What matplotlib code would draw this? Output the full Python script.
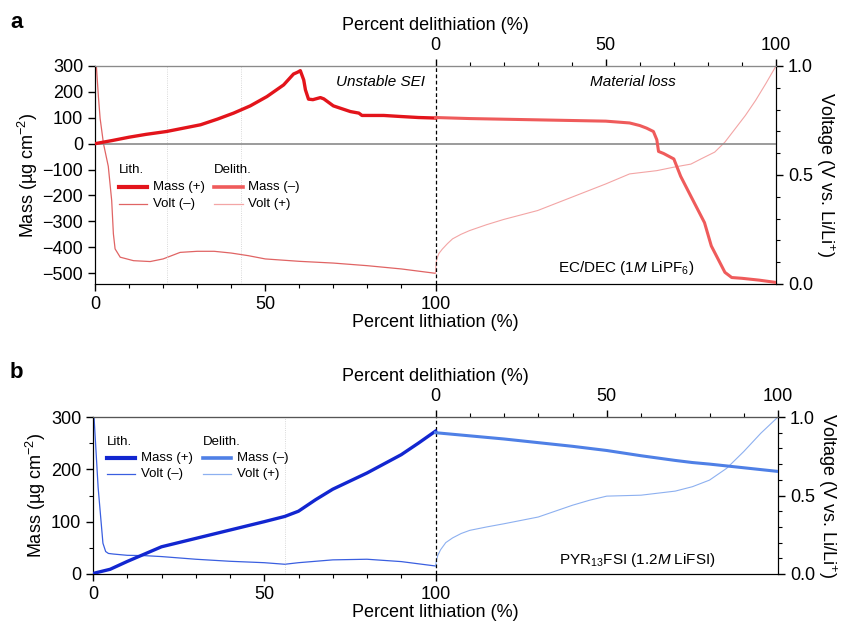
import matplotlib
matplotlib.use("Agg")
import matplotlib.pyplot as plt
from matplotlib.lines import Line2D

plt.rcParams["font.family"] = ["Liberation Sans", "DejaVu Sans"]
plt.rcParams["mathtext.fontset"] = "custom"
plt.rcParams["mathtext.rm"] = "Liberation Sans"
plt.rcParams["mathtext.it"] = "Liberation Sans:italic"
plt.rcParams["mathtext.bf"] = "Liberation Sans:bold"

# --- panel a: EC/DEC (1M LiPF6) -------------------------------------------
a_lith_x = [0, 5, 10, 15, 21, 26, 31, 36, 40.7, 45.6, 50.5, 55.4, 58.3, 59.5, 60.3,
            61.3, 61.8, 62.7, 64, 66.2, 67.2, 70, 75, 77.5, 78.4, 84.8, 89.7, 95, 100]
a_lith_mass = [0, 12, 25, 36, 47, 60, 73, 95, 118, 146, 182, 227, 269, 276, 282,
               246, 208, 172, 170, 178, 173, 146, 124, 118, 109, 109, 105, 101, 99]

a_deli_x = [0, 10, 30, 50, 57, 60, 62, 64, 65, 65.5, 67, 70, 72, 75, 79, 81, 85,
            87, 90, 95, 100]
a_deli_mass = [101, 97, 92, 87, 80, 70, 60, 47, 15, -30, -38, -59, -126, -203,
               -305, -395, -497, -517, -520, -527, -536]

a_lith_vx = [0.4, 1.0, 1.5, 2.5, 3.9, 4.9, 5.4, 5.9, 7.4, 11.3, 16.2, 20, 25, 30,
             35, 40, 45, 50, 60, 70, 80, 90, 100]
a_lith_v = [1.0, 0.86, 0.76, 0.643, 0.54, 0.383, 0.23, 0.161, 0.123, 0.107, 0.103,
            0.115, 0.145, 0.150, 0.150, 0.142, 0.130, 0.115, 0.104, 0.096,
            0.084, 0.069, 0.049]

a_deli_vx = [0, 0.2, 0.5, 1, 2, 3.5, 5, 7.5, 10, 15, 20, 30, 40, 50, 57, 65, 70,
             75, 78, 82, 85, 88, 91, 94, 97, 100]
a_deli_v = [0.049, 0.10, 0.12, 0.14, 0.16, 0.185, 0.207, 0.228, 0.245, 0.272,
            0.296, 0.337, 0.398, 0.459, 0.505, 0.52, 0.536, 0.55, 0.574, 0.605,
            0.651, 0.712, 0.773, 0.842, 0.919, 1.0]

# --- panel b: PYR13FSI (1.2M LiFSI) ---------------------------------------
b_lith_x = [0, 5, 10, 15, 20, 30, 40, 50, 56, 60, 65, 70, 80, 90, 95, 100]
b_lith_mass = [1, 9, 24, 38, 52, 68, 84, 100, 110, 120, 142, 162, 193, 228, 250, 273]

b_deli_x = [0, 10, 20, 30, 40, 50, 60, 70, 75, 80, 90, 100]
b_deli_mass = [270, 264, 258, 251, 244, 236, 226, 217, 213, 210, 203, 196]

b_lith_vx = [0.3, 1.5, 2.9, 3.7, 4.5, 6, 10, 15, 20, 30, 40, 50, 56, 60, 70, 80,
             90, 100]
b_lith_v = [1.0, 0.55, 0.196, 0.143, 0.131, 0.127, 0.119, 0.117, 0.111, 0.094,
            0.081, 0.072, 0.062, 0.072, 0.090, 0.094, 0.079, 0.051]

b_deli_vx = [0, 0.3, 0.7, 1.5, 3, 5, 7.5, 10, 15, 20, 30, 40, 45, 50, 60, 70, 75,
             80, 85, 90, 95, 100]
b_deli_v = [0.047, 0.09, 0.12, 0.155, 0.20, 0.23, 0.258, 0.278, 0.30, 0.32, 0.363,
            0.438, 0.47, 0.496, 0.502, 0.528, 0.556, 0.598, 0.673, 0.78, 0.897, 1.0]

RED = dict(lm="#e3141b", dm="#ef5b5b", lv="#e06464", dv="#f3a5a5")
BLUE = dict(lm="#1226d0", dm="#4f80e6", lv="#3a5fe0", dv="#8db0f0")

LBL = 13
TICK = 13


def draw_panel(ax, lx, lm, dx, dm, lvx, lv, dvx, dv, col, mass_lim, mass_major,
               mass_minor, guides, top_color):
    vax = ax.twinx()
    shift = [x + 100 for x in dx]
    shift_v = [x + 100 for x in dvx]
    vax.plot(lvx, lv, color=col["lv"], lw=0.9, zorder=2)
    vax.plot(shift_v, dv, color=col["dv"], lw=0.8, zorder=2)
    vax.set_ylim(0, 1)
    ax.plot(lx, lm, color=col["lm"], lw=2.4, zorder=3)
    ax.plot(shift, dm, color=col["dm"], lw=2.2, zorder=3)
    ax.set_zorder(vax.get_zorder() + 1)
    ax.patch.set_visible(False)

    ax.set_xlim(0, 200)
    ax.set_ylim(*mass_lim)
    ax.axvline(100, color="black", ls=(0, (3, 2)), lw=0.9, zorder=1)
    for g in guides:
        ax.axvline(g, color="#cccccc", ls=":", lw=0.6, zorder=0)

    ax.set_xticks([0, 50, 100])
    ax.set_xticks(range(10, 100, 10), minor=True)
    ax.set_yticks(mass_major)
    ax.set_yticks(mass_minor, minor=True)
    ax.tick_params(axis="both", labelsize=TICK, direction="out", length=5, width=1)
    ax.tick_params(axis="both", which="minor", length=3, width=0.8)
    ax.set_xlabel("Percent lithiation (%)", fontsize=LBL, labelpad=1)
    ax.set_ylabel("Mass (µg cm$^{-2}$)", fontsize=LBL, labelpad=2)

    top = ax.secondary_xaxis("top", functions=(lambda x: x - 100, lambda x: x + 100))
    top.set_xticks([0, 50, 100])
    top.set_xticks(range(10, 100, 10), minor=True)
    top.tick_params(labelsize=TICK, direction="out", length=5, width=1)
    top.tick_params(which="minor", length=3, width=0.8)
    top.set_xlabel("Percent delithiation (%)", fontsize=LBL, labelpad=5)
    top.spines["top"].set_color(top_color)

    vax.set_yticks([0, 0.5, 1.0])
    vax.set_yticklabels(["0.0", "0.5", "1.0"])
    vax.set_yticks([i / 10 for i in range(1, 10)], minor=True)
    vax.tick_params(labelsize=TICK, direction="out", length=5, width=1)
    vax.tick_params(which="minor", length=3, width=0.8)
    vax.set_ylabel("Voltage (V vs. Li/Li$^{+}$)", fontsize=LBL, rotation=-90,
                   labelpad=17)
    for a in (ax, vax):
        a.spines["top"].set_color(top_color)
    return vax


def add_legend(ax, col, x0, y0, dx, dy):
    # header + two rows per column, positions in axes fraction
    for j, (head, labels, keys, widths) in enumerate([
            ("Lith.", ["Mass (+)", "Volt (–)"], ["lm", "lv"], [3.0, 0.9]),
            ("Delith.", ["Mass (–)", "Volt (+)"], ["dm", "dv"], [2.6, 0.9])]):
        xs = x0 + j * dx
        ax.text(xs, y0, head, transform=ax.transAxes, fontsize=9.5,
                ha="left", va="center")
        for i, (lab, k, w) in enumerate(zip(labels, keys, widths)):
            yy = y0 - (i + 1) * dy
            ax.add_line(Line2D([xs, xs + 0.042], [yy, yy], transform=ax.transAxes,
                               color=col[k], lw=w, clip_on=False))
            ax.text(xs + 0.05, yy, lab, transform=ax.transAxes, fontsize=9.5,
                    ha="left", va="center")


fig = plt.figure(figsize=(8.42, 6.23), dpi=100)

ax_a = fig.add_axes([95 / 842, 1 - 284 / 623, 681 / 842, 218 / 623])
draw_panel(ax_a, a_lith_x, a_lith_mass, a_deli_x, a_deli_mass, a_lith_vx, a_lith_v,
           a_deli_vx, a_deli_v, RED, (-542, 300), range(-500, 301, 100), [],
           [21, 43], "#8a8a8a")
ax_a.axhline(0, color="#8a8a8a", lw=1.2, zorder=1)
ax_a.text(97, 240, "Unstable SEI", fontsize=11, style="italic", ha="right", va="center")
ax_a.text(158, 240, "Material loss", fontsize=11, style="italic", ha="center",
          va="center")
ax_a.text(136, -480, "EC/DEC (1$M$ LiPF$_6$)", fontsize=11, ha="left", va="center")
add_legend(ax_a, RED, 0.035, 0.525, 0.14, 0.08)
fig.text(10 / 842, 1 - 22 / 623, "a", fontsize=16, fontweight="bold", va="center")

ax_b = fig.add_axes([93 / 842, 1 - 574 / 623, 685 / 842, 157 / 623])
draw_panel(ax_b, b_lith_x, b_lith_mass, b_deli_x, b_deli_mass, b_lith_vx, b_lith_v,
           b_deli_vx, b_deli_v, BLUE, (0, 300), [0, 100, 200, 300], [50, 150, 250],
           [56], "#555555")
ax_b.text(136, 27, "PYR$_{13}$FSI (1.2$M$ LiFSI)", fontsize=11, ha="left", va="center")
add_legend(ax_b, BLUE, 0.02, 0.84, 0.14, 0.10)
fig.text(10 / 842, 1 - 373 / 623, "b", fontsize=16, fontweight="bold", va="center")

fig.savefig("out.png", dpi=100)
